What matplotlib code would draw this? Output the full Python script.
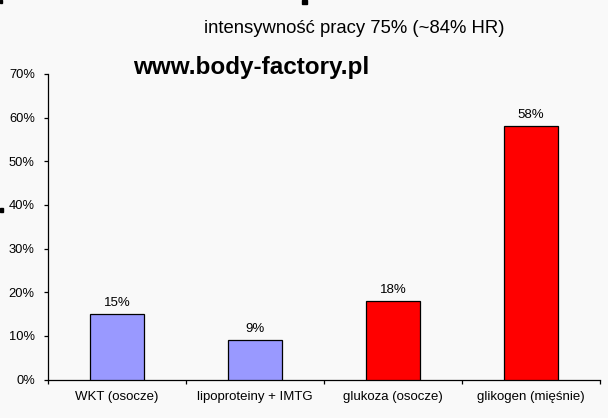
import matplotlib
matplotlib.use("Agg")
import matplotlib.pyplot as plt
from matplotlib.patches import Rectangle

categories = ["WKT (osocze)", "lipoproteiny + IMTG", "glukoza (osocze)", "glikogen (mięśnie)"]
values = [15, 9, 18, 58]
colors = ["#9999ff", "#9999ff", "#ff0000", "#ff0000"]
yticks = [0, 10, 20, 30, 40, 50, 60, 70]
title = "intensywność pracy 75% (~84% HR)"
watermark = "www.body-factory.pl"

plt.rcParams['font.family'] = ['Liberation Sans', 'DejaVu Sans']

bg = "#f9f9f9"
fig = plt.figure(figsize=(6.08, 4.18), dpi=100, facecolor=bg)
ax = fig.add_axes([48/608, 38.5/418, 552/608, 305.5/418])
ax.set_facecolor(bg)

x = list(range(len(categories)))
ax.bar(x, values, width=0.39, color=colors, edgecolor="black", linewidth=0.9, zorder=3)
for xi, v in zip(x, values):
    ax.annotate(f"{v}%", (xi, v), xytext=(0, 6), textcoords="offset points",
                ha="center", va="baseline", fontsize=9.5)

ax.set_xlim(-0.5, len(categories) - 0.5)
ax.set_ylim(0, 70)
ax.set_yticks(yticks)
ax.set_yticklabels([f"{t}%" for t in yticks], fontsize=9.3)
ax.set_xticks(x)
ax.set_xticklabels(categories, fontsize=9.5)
ax.tick_params(axis="x", length=0, pad=8)
ax.set_xticks([i + 0.5 for i in range(-1, len(categories))], minor=True)
ax.tick_params(axis="x", which="minor", length=3, direction="out", width=0.9)
ax.tick_params(axis="y", length=3, direction="out", width=0.9, pad=6.5)
for s in ["top", "right"]:
    ax.spines[s].set_visible(False)
for s in ["left", "bottom"]:
    ax.spines[s].set_linewidth(0.9)

fig.text(354.5/608, 1 - 33/418, title, ha="center", va="baseline", fontsize=13.3)
fig.text(251.5/608, 1 - 74/418, watermark, ha="center", va="baseline", fontsize=17.5, fontweight="bold")

# small black artifacts at the edges
fig.add_artist(Rectangle((0, 1 - 3/418), 2/608, 3/418, transform=fig.transFigure, color="black"))
fig.add_artist(Rectangle((302/608, 1 - 4/418), 5/608, 4/418, transform=fig.transFigure, color="black"))
fig.add_artist(Rectangle((0, 1 - 212/418), 2.5/608, 4/418, transform=fig.transFigure, color="black"))

fig.savefig("out.png", dpi=100, facecolor=fig.get_facecolor())
